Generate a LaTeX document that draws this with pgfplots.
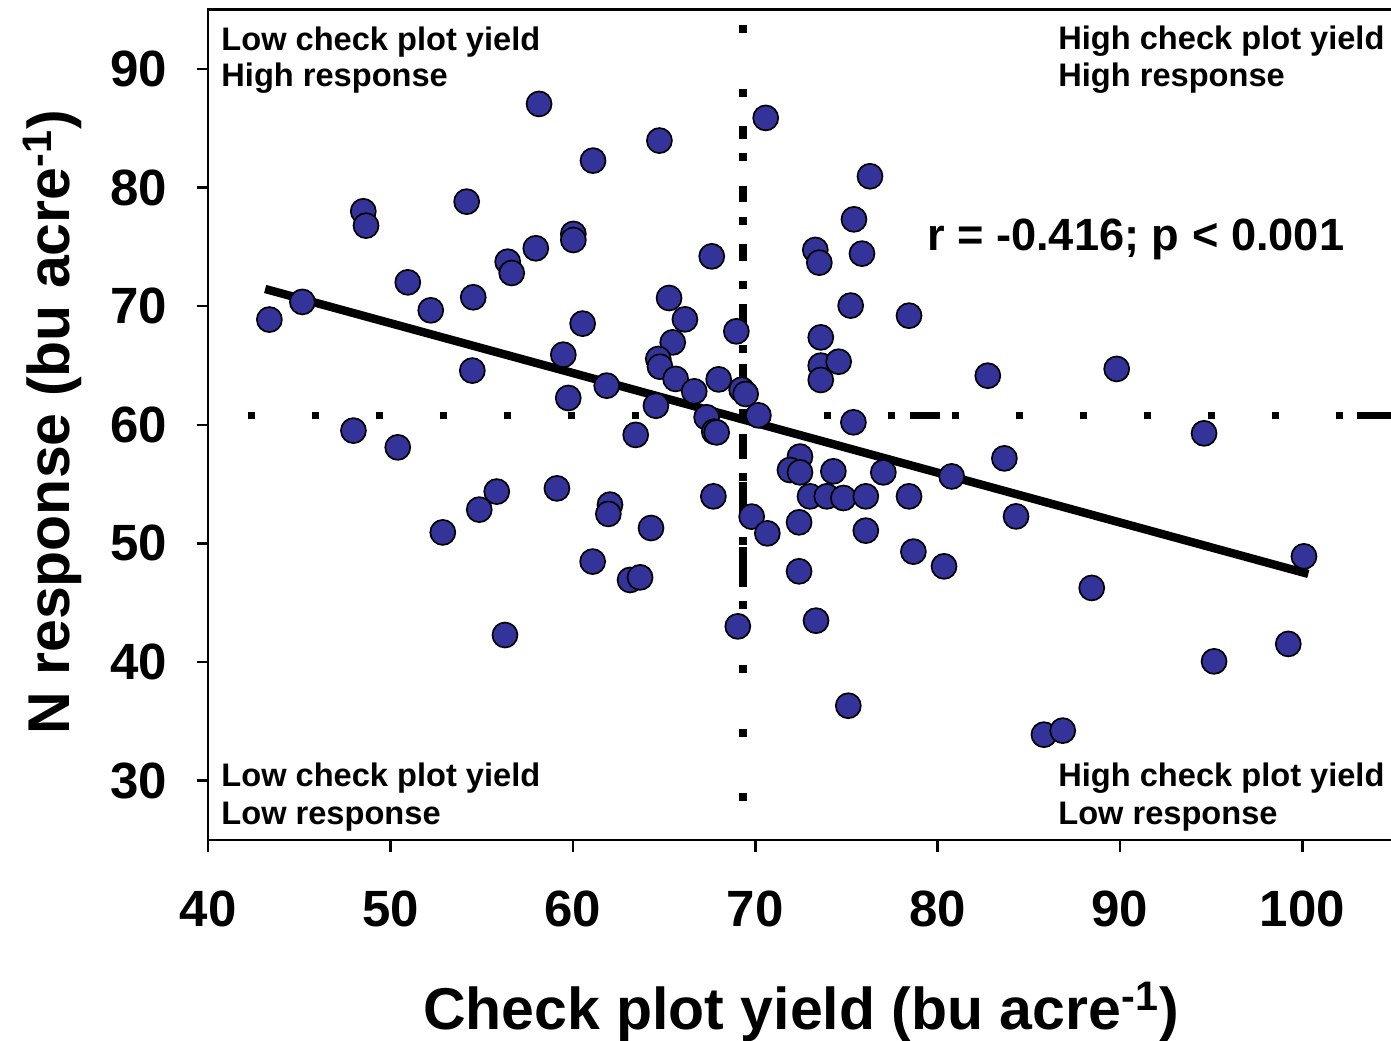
\documentclass[border=0pt]{standalone}
\usepackage{pgfplots}
\pgfplotsset{compat=1.18}
\usepackage{fontspec}
\setmainfont{Liberation Sans}
\definecolor{ptblue}{RGB}{51,51,153}
\pgfplotstableread{
x y
58.14 87.05
61.10 82.27
48.50 78.00
48.65 76.79
54.17 78.81
60.02 76.09
60.02 75.58
57.96 74.88
56.42 73.75
56.64 72.80
50.94 72.01
45.16 70.36
43.35 68.87
52.20 69.65
54.53 70.75
60.53 68.53
59.47 65.91
54.48 64.57
59.74 62.26
61.85 63.30
47.96 59.51
50.39 58.10
55.82 54.37
54.86 52.85
52.86 50.93
59.12 54.64
61.08 48.47
56.27 42.28
64.74 83.96
70.57 85.87
76.29 80.95
75.41 77.32
73.29 74.74
73.51 73.67
75.85 74.43
67.61 74.20
75.23 70.05
78.43 69.20
65.27 70.69
66.14 68.89
65.47 66.95
68.96 67.88
64.68 65.55
64.77 64.90
65.63 63.87
66.65 62.82
67.99 63.83
69.25 62.96
69.47 62.60
73.59 67.37
73.59 64.99
74.57 65.32
73.59 63.78
64.55 61.61
70.17 60.80
75.38 60.21
63.44 59.15
67.33 60.63
67.75 59.42
67.88 59.36
72.45 57.32
71.90 56.19
72.45 55.99
74.28 56.08
77.02 55.99
80.77 55.65
73.00 53.97
73.92 53.97
74.83 53.83
76.06 53.97
78.43 53.97
67.70 53.97
62.03 53.27
61.94 52.49
64.28 51.30
63.13 46.92
63.68 47.14
69.80 52.26
70.66 50.85
72.40 51.78
76.06 51.08
72.40 47.65
78.67 49.31
80.35 48.07
73.33 43.49
69.04 43.01
75.10 36.32
94.61 59.28
83.66 57.17
84.30 52.28
100.09 48.91
88.45 46.25
95.16 40.06
99.23 41.53
85.83 33.88
86.86 34.22
82.75 64.14
89.82 64.71
}\pts
\begin{document}
\begin{tikzpicture}
\begin{axis}[
  at={(0,0)}, anchor=south west,
  scale only axis, width=592.6pt, height=415.2pt,
  xmin=40, xmax=105, ymin=25, ymax=95,
  xtick={40,50,...,100}, ytick={30,40,...,90},
  axis line style={line width=1.2pt},
  every tick/.style={line width=1.2pt, black},
  major tick length=5.8pt,
  tick align=outside,
  xtick pos=bottom, ytick pos=left,
  /pgf/number format/assume math mode=true,
  tick label style={font=\fontsize{25.5}{30}\selectfont\bfseries},
  xticklabel style={anchor=north, inner sep=0pt},
  yticklabel style={anchor=east, inner sep=0pt},
  xticklabel shift=19.4pt, yticklabel shift=14.6pt,
  xlabel={Check plot yield (bu acre\textsuperscript{-1})},
  ylabel={N response (bu acre\textsuperscript{-1})},
  xlabel style={at={(axis description cs:0.5,-0.2276)}, anchor=base, inner sep=0pt, font=\fontsize{29.5}{35}\selectfont\bfseries},
  ylabel style={at={(axis description cs:-0.1167,0.503)}, anchor=base, inner sep=0pt, font=\fontsize{29.5}{35}\selectfont\bfseries},
]
% reference lines
\draw[line width=3.8pt, dash pattern=on 3.8pt off 28.2pt] (axis cs:42.16,60.77) -- (axis cs:105,60.77);
\draw[line width=3.8pt, dash pattern=on 3.8pt off 28.2pt] (axis cs:69.31,93.69) -- (axis cs:69.31,28.27);
\draw[line width=3.8pt] (axis cs:78.48,60.77) -- (axis cs:80.13,60.77)
  (axis cs:103.0,60.77) -- (axis cs:105,60.77);
\draw[line width=3.8pt]
  (axis cs:69.31,85.22) -- (axis cs:69.31,84.10)
  (axis cs:69.31,80.16) -- (axis cs:69.31,78.75)
  (axis cs:69.31,75.25) -- (axis cs:69.31,73.84)
  (axis cs:69.31,70.19) -- (axis cs:69.31,67.94)
  (axis cs:69.31,65.13) -- (axis cs:69.31,62.60)
  (axis cs:69.31,59.23) -- (axis cs:69.31,57.12)
  (axis cs:69.31,55.15) -- (axis cs:69.31,51.92)
  (axis cs:69.31,49.67) -- (axis cs:69.31,46.30);
% regression line
\addplot[black, line width=4.2pt, no marks] coordinates {(43.12,71.45) (100.33,47.43)};
% points
\addplot[only marks, mark=*, mark size=6.25pt, mark options={fill=ptblue, draw=black, line width=0.85pt}] table[x=x,y=y] {\pts};
% texts
\begin{scope}[every node/.style={font=\fontsize{16.3}{19}\selectfont\bfseries, inner sep=0pt}]
\node[anchor=base west] at (axis cs:40.70,91.54) {Low check plot yield};
\node[anchor=base west] at (axis cs:40.70,88.50) {High response};
\node[anchor=base west] at (axis cs:86.60,91.66) {High check plot yield};
\node[anchor=base west] at (axis cs:86.60,88.54) {High response};
\node[anchor=base west] at (axis cs:40.70,29.54) {Low check plot yield};
\node[anchor=base west] at (axis cs:40.70,26.33) {Low response};
\node[anchor=base west] at (axis cs:86.60,29.54) {High check plot yield};
\node[anchor=base west] at (axis cs:86.60,26.33) {Low response};
\end{scope}
\node[anchor=base west, inner sep=0pt, font=\fontsize{22.6}{27}\selectfont\bfseries] at (axis cs:79.40,74.68) {r = -0.416; p < 0.001};
\end{axis}
\pgfresetboundingbox
\path (-104.15pt,-100pt) rectangle (591.35pt,420pt);
\end{tikzpicture}
\end{document}
